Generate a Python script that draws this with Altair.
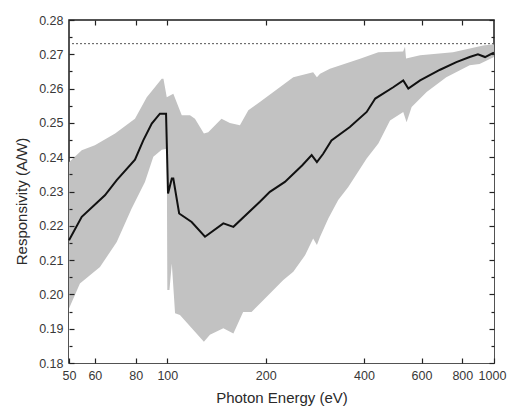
import altair as alt
import pandas as pd

# ---- data ----
line_e = [50, 54.7, 64.4, 70, 79.6, 84.4, 89.6, 94.9, 99.1, 100.5, 103.2, 104.3, 108.7,
          118.7, 130.4, 148.4, 159.3, 192, 206, 229, 258.5, 276.6, 287, 300, 318, 362,
          407.6, 433, 491.5, 527.5, 546.6, 594, 684, 767, 842.5, 893, 939, 985, 1000]
line_r = [0.2158, 0.2226, 0.2289, 0.2333, 0.2393, 0.2449, 0.2498, 0.2527, 0.2527, 0.2294,
          0.2338, 0.2338, 0.2236, 0.2211, 0.2168, 0.2207, 0.2197, 0.2270, 0.2299, 0.2328,
          0.2376, 0.2406, 0.2386, 0.2410, 0.2449, 0.2488, 0.2532, 0.2571, 0.2604, 0.2624,
          0.2600, 0.2624, 0.2655, 0.2677, 0.2692, 0.2700, 0.2692, 0.2702, 0.2705]

upper_e = [50, 54.7, 60, 69.2, 79.6, 86.5, 91.6, 96.1, 97.3, 99.6, 104.3, 110.7, 117.3,
           121.5, 129.4, 133.4, 146.5, 155.4, 166.8, 177, 192, 243, 279.5, 287, 293.5,
           314.5, 389, 442.5, 527, 534, 538, 594, 749, 927, 1000]
upper_r = [0.2385, 0.2420, 0.2435, 0.2469, 0.2512, 0.2575, 0.2604, 0.2629, 0.2629, 0.2575,
           0.2585, 0.2522, 0.2522, 0.2512, 0.2469, 0.2473, 0.2512, 0.2500, 0.2493, 0.2537,
           0.2561, 0.2633, 0.2648, 0.2633, 0.2643, 0.2658, 0.2687, 0.2706, 0.2708, 0.2722,
           0.2688, 0.2697, 0.2706, 0.2726, 0.2729]

lower_e = [50, 54, 62.2, 70, 77.7, 85.4, 90.6, 96.1, 99.6, 100, 101.5, 103.2, 105.6, 109.3,
           129.4, 135, 148.4, 159.3, 170.6, 181, 196.6, 226.5, 243, 264, 279.5, 287, 293.5,
           311, 333.5, 358, 407.6, 442.5, 480.5, 527.5, 540, 559.6, 622, 714.5, 842.5, 903, 1000]
lower_r = [0.1959, 0.2032, 0.2080, 0.2153, 0.2250, 0.2328, 0.2401, 0.2422, 0.2425, 0.2013,
           0.2013, 0.2090, 0.1945, 0.1940, 0.1862, 0.1882, 0.1901, 0.1886, 0.1949, 0.1949,
           0.1983, 0.2042, 0.2066, 0.2114, 0.2163, 0.2144, 0.2168, 0.2221, 0.2275, 0.2313,
           0.2396, 0.2440, 0.2507, 0.2532, 0.2502, 0.2546, 0.2590, 0.2633, 0.2668, 0.2672, 0.2692]

ref_level = 0.2731

x_ticks = [50, 60, 80, 100, 200, 400, 600, 800, 1000]
y_ticks = [0.18, 0.19, 0.20, 0.21, 0.22, 0.23, 0.24, 0.25, 0.26, 0.27, 0.28]
y_minor = [0.185, 0.195, 0.205, 0.215, 0.225, 0.235, 0.245, 0.255, 0.265, 0.275]

x_title = "Photon Energy (eV)"
y_title = "Responsivity (A/W)"

FONT = "Liberation Sans"
LABEL_COLOR = "#383838"
TICK_COLOR = "#222222"

df_line = pd.DataFrame({"E": line_e, "R": line_r})
df_up = pd.DataFrame({"E": upper_e, "R": upper_r})
df_lo = pd.DataFrame({"E": lower_e, "R": lower_r})

xscale = alt.Scale(type="log", domain=[50, 1000], nice=False)
yscale = alt.Scale(domain=[0.18, 0.28], nice=False, zero=False)

common = dict(domain=False, grid=False, tickColor=TICK_COLOR, tickWidth=1.2, zindex=2,
              labelFont=FONT, labelColor=LABEL_COLOR, titleFont=FONT,
              titleColor="#2a2a2a", titleFontWeight="normal")

ax_bottom = alt.Axis(orient="bottom", values=x_ticks, format="d", offset=-5, tickSize=5,
                     labelPadding=6, labelFontSize=12.5, labelFlush=False,
                     labelOffset={"condition": {"test": "datum.value >= 1000", "value": -2},
                                  "value": 0},
                     labelOverlap=False,
                     title=x_title, titleFontSize=15, titlePadding=9, **common)
ax_top = alt.Axis(orient="top", values=x_ticks[1:-1], labels=False, offset=-5, tickSize=5,
                  title=None, **common)
ax_left = alt.Axis(orient="left", values=y_ticks, format=".2f", offset=-5, tickSize=5,
                   labelPadding=6, labelFontSize=12.5, labelFlush=False, labelOverlap=False,
                   title=y_title, titleFontSize=15, titlePadding=9, titleY=181, **common)
ax_left_minor = alt.Axis(orient="left", values=y_minor, labels=False, offset=-3, tickSize=3,
                         title=None, **common)
ax_right = alt.Axis(orient="right", values=y_ticks, labels=False, offset=-5, tickSize=5,
                    title=None, **common)
ax_right_minor = alt.Axis(orient="right", values=y_minor, labels=False, offset=-3, tickSize=3,
                          title=None, **common)

band_up = alt.Chart(df_up).mark_area(color="#c2c2c2", opacity=1).encode(
    x=alt.X("E:Q", scale=xscale, axis=ax_bottom),
    y=alt.Y("R:Q", scale=yscale, axis=ax_left),
    y2=alt.datum(0.18),
)
band_lo = alt.Chart(df_lo).mark_area(color="white", opacity=1).encode(
    x=alt.X("E:Q", scale=xscale, axis=ax_top),
    y=alt.Y("R:Q", scale=yscale, axis=ax_left_minor),
    y2=alt.datum(0.18),
)
line = alt.Chart(df_line).mark_line(color="#111111", strokeWidth=2).encode(
    x=alt.X("E:Q", scale=xscale, axis=None),
    y=alt.Y("R:Q", scale=yscale, axis=ax_right),
)
rule = alt.Chart(pd.DataFrame({"R": [ref_level]})).mark_rule(
    color="#555555", strokeWidth=1, strokeDash=[2, 2]
).encode(
    y=alt.Y("R:Q", scale=yscale, axis=ax_right_minor),
)

chart = alt.layer(band_up, band_lo, line, rule).resolve_axis(
    x="independent", y="independent"
).properties(
    width=425, height=343,
    autosize=alt.AutoSizeParams(type="none"),
    padding={"left": 69, "top": 20, "right": 13, "bottom": 47},
    background="white",
).configure_view(stroke="#1a1a1a", strokeWidth=1.5)

chart.save("out.html", embed_options={"renderer": "svg", "actions": False})
